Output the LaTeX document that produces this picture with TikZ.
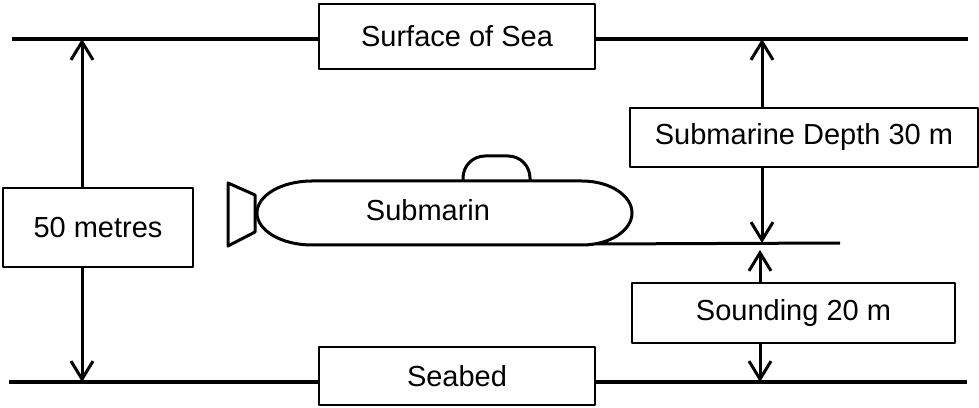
\documentclass[tikz,border=0pt]{standalone}
\usepackage{fontspec}
\setmainfont{Liberation Sans}
\usetikzlibrary{arrows.meta}
\begin{document}
\begin{tikzpicture}[x=.5pt, y=.5pt, line join=round,
		>={Straight Barb[length=9pt, width=11pt]},
		font=\fontsize{14.5}{17}\selectfont,
		lbl/.style 2 args={draw, line width=.6pt, inner sep=0pt,
			minimum width=#1*.5pt, minimum height=#2*.5pt},
		level/.style={line width=1.7pt},
		dim/.style={line width=1.5pt}]
				\useasboundingbox (0,0) rectangle (979,407);
				\def\ySurf{368}
				\def\ySub{164}
				\def\yBed{25}
				\path
				(12,\ySurf) coordinate (S1) (968,\ySurf) coordinate (S2)
				(9,\yBed) coordinate (B1) (967,\yBed) coordinate (B2)
				(595,163) coordinate (K1) (840,\ySub) coordinate (K2)
				(82,\ySurf) coordinate (L1) (82,\yBed) coordinate (L2)
				(762,\ySurf) coordinate (D1) (762,\ySub) coordinate (D2)
				(760,157) coordinate (H1) (760,\yBed) coordinate (H2)
				;
				\node[lbl={276}{65}] (surf) at (457,370.5) {Surface of Sea};
				\node[lbl={276}{58}] (bed) at (457,31) {Seabed};
				\node[lbl={190}{79}] (total) at (98,179.5) {50 metres};
				\node[lbl={348}{59}] (depth) at (804,269.5) {Submarine Depth 30 m};
				\node[lbl={323}{60}] (sound) at (793.5,94) {Sounding 20 m};
				\draw[level]
				(S1)--(S1 -| surf.west) (S2 -| surf.east)--(S2)
				(B1)--(B1 -| bed.west) (B2 -| bed.east)--(B2)
				;
				\draw[dim, ->] (L1 |- total.north)--(L1);
				\draw[dim, ->] (L2 |- total.south)--(L2);
				\draw[dim, ->] (D1 |- depth.north)--(D1);
				\draw[dim, ->] (D2 |- depth.south)--(D2);
				\draw[dim, ->] (H1 |- sound.north)--(H1);
				\draw[dim, ->] (H2 |- sound.south)--(H2);
				% hull, sail and tail
				\draw[dim]
				(312,226)--(582,226) arc (90:-90:50 and 32)--(312,162) arc (270:90:55 and 32)--cycle
				(K1)--(K2)
				;
				\draw[dim, rounded corners=11pt] (463,226)--(463,251)--(530,251)--(530,226);
				\draw[dim] (228,224)--(255,212)--(255,175)--(228,161)--cycle;
				\node (sub) at (428,197) {Submarin};
			\end{tikzpicture}
\end{document}
